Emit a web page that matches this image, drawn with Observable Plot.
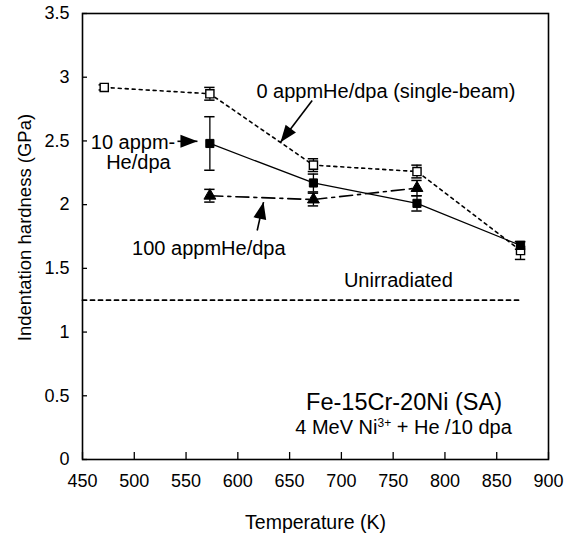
<!DOCTYPE html>
<html><head><meta charset="utf-8">
<script src="https://cdn.jsdelivr.net/npm/d3@7"></script>
<script src="https://cdn.jsdelivr.net/npm/@observablehq/plot@0.6"></script>
<style>body{margin:0;background:#fff}#chart svg{display:block}</style>
</head><body><div id="chart"></div>
<script>
// ---- data ----
const xTicks = [450, 500, 550, 600, 650, 700, 750, 800, 850, 900];
const yTicks = [0, 0.5, 1, 1.5, 2, 2.5, 3, 3.5];

const temps0 = [471, 573, 673, 773, 873];
const hard0 = [2.92, 2.87, 2.31, 2.26, 1.64];
const err0 = [0.02, 0.05, 0.05, 0.05, 0.07];

const temps10 = [573, 673, 773, 873];
const hard10 = [2.48, 2.17, 2.01, 1.68];
const err10 = [0.21, 0.07, 0.06, 0.03];

const temps100 = [573, 673, 773];
const hard100 = [2.07, 2.04, 2.13];
const err100 = [0.05, 0.05, 0.06];

const unirrTemps = [450, 873];
const unirrHard = 1.25;

const labelTexts = ["0 appmHe/dpa (single-beam)", "10 appm-", "He/dpa", "100 appmHe/dpa", "Unirradiated"];
const labelX = [743, 498.8, 504, 572, 755];
const labelY = [2.888, 2.49, 2.333, 1.655, 1.402];

const arrowX1 = [671.8, 541.7, 618.7];
const arrowY1 = [2.817, 2.497, 1.797];
const arrowX2 = [641.2, 561, 624.8];
const arrowY2 = [2.49, 2.497, 2.02];

const title1 = "Fe-15Cr-20Ni (SA)";
const title2 = "4 MeV Ni3+ + He /10 dpa";

// ---- layout ----
const W = 575, H = 534;
const mL = 82, mR = 27, mT = 13, mB = 75;
const kx = (W - mL - mR) / (900 - 450);
const ky = (H - mT - mB) / 3.5;
const font = "'Liberation Sans', Arial, Helvetica, sans-serif";

const mk = (t, h, e) => t.map((x, i) => ({x, y: h[i], e: e[i]}));
const s0 = mk(temps0, hard0, err0);
const s10 = mk(temps10, hard10, err10);
const s100 = mk(temps100, hard100, err100);
const unirr = unirrTemps.map(x => ({x, y: unirrHard}));
const labels = labelTexts.map((t, i) => ({t, x: labelX[i], y: labelY[i]}));
const arrows = arrowX1.map((x1, i) => ({x1, y1: arrowY1[i], x2: arrowX2[i], y2: arrowY2[i]}));

const head = {draw(ctx) { ctx.moveTo(0, 0); ctx.lineTo(-6.5, 17); ctx.lineTo(6.5, 17); ctx.closePath(); }};
const angle = a => Math.atan2((a.x2 - a.x1) * kx, (a.y2 - a.y1) * ky) * 180 / Math.PI;

const errMarks = (s, sw) => [
  Plot.ruleX(s, {x: "x", y1: d => d.y - d.e, y2: d => d.y + d.e, stroke: "black", strokeWidth: sw}),
  Plot.ruleY(s, {y: d => d.y + d.e, x1: d => d.x - 5, x2: d => d.x + 5, stroke: "black", strokeWidth: 1.5}),
  Plot.ruleY(s, {y: d => d.y - d.e, x1: d => d.x - 5, x2: d => d.x + 5, stroke: "black", strokeWidth: 1.5})
];

const chart = Plot.plot({
  width: W, height: H,
  marginLeft: mL, marginRight: mR, marginTop: mT, marginBottom: mB,
  style: {fontFamily: font, fontSize: "18px", color: "black", background: "white", overflow: "visible"},
  x: {domain: [450, 900]},
  y: {domain: [0, 3.5]},
  marks: [
    Plot.axisX(xTicks, {tickSize: 0, tickPadding: 15, fontSize: 18, label: null, tickFormat: d => String(d)}),
    Plot.axisY(yTicks, {tickSize: 0, tickPadding: 13, fontSize: 18, label: null, tickFormat: d => String(d)}),
    Plot.ruleX(xTicks, {x: d => d, y1: 0, y2: 7 / ky, stroke: "black", strokeWidth: 1.3}),
    Plot.ruleY(yTicks, {y: d => d, x1: 450, x2: 450 + 5 / kx, stroke: "black", strokeWidth: 1.3}),
    Plot.text(["Temperature (K)"], {frameAnchor: "bottom", dy: 63, fontSize: 19.5, lineAnchor: "middle", textAnchor: "middle"}),
    Plot.text(["Indentation hardness (GPa)"], {frameAnchor: "left", dx: -57, dy: -9, rotate: -90, fontSize: 18.5, lineAnchor: "middle", textAnchor: "middle"}),
    // unirradiated
    Plot.line(unirr, {x: "x", y: "y", stroke: "black", strokeWidth: 1.8, strokeDasharray: "4,4"}),
    // lines
    Plot.line(s0, {x: "x", y: "y", stroke: "black", strokeWidth: 1.6, strokeDasharray: "3,4"}),
    Plot.line(s100, {x: "x", y: "y", stroke: "black", strokeWidth: 1.6, strokeDasharray: "13,5,3,5"}),
    Plot.line(s10, {x: "x", y: "y", stroke: "black", strokeWidth: 1.3}),
    ...errMarks(s0, 1.3),
    ...errMarks(s100, 1.3),
    ...errMarks(s10, 1.3),
    Plot.dot(s0, {x: "x", y: "y", symbol: "square", r: 4.6, fill: "white", stroke: "black", strokeWidth: 1.4}),
    Plot.dot(s100, {x: "x", y: "y", symbol: "triangle", r: 4.4, fill: "black", stroke: "black", strokeWidth: 1}),
    Plot.dot(s10, {x: "x", y: "y", symbol: "square", r: 4.6, fill: "black", stroke: "black", strokeWidth: 1}),
    // arrows
    Plot.link(arrows, {x1: "x1", y1: "y1", x2: "x2", y2: "y2", stroke: "black", strokeWidth: 1.6}),
    Plot.dot(arrows, {x: "x2", y: "y2", symbol: head, rotate: angle, fill: "black", stroke: "none", r: 5}),
    // labels
    Plot.text(labels, {x: "x", y: "y", text: "t", fontSize: 20, lineAnchor: "middle", fill: "black"}),
    Plot.text([title1], {x: 760.5, y: 0.447, fontSize: 23.5, lineAnchor: "middle"}),
    Plot.text([title2], {x: 760, y: 0.247, fontSize: 20, lineAnchor: "middle"}),
    Plot.frame({stroke: "black", strokeWidth: 1.6})
  ]
});

// superscript for Ni3+
d3.select(chart).selectAll("text").filter(function() { return this.textContent === title2; }).each(function() {
  const t = d3.select(this);
  t.text(null);
  t.append("tspan").text("4 MeV Ni");
  t.append("tspan").attr("dy", -7).attr("font-size", "12px").text("3+");
  t.append("tspan").attr("dy", 7).text(" + He /10 dpa");
});

document.getElementById("chart").appendChild(chart);
</script>
</body></html>
